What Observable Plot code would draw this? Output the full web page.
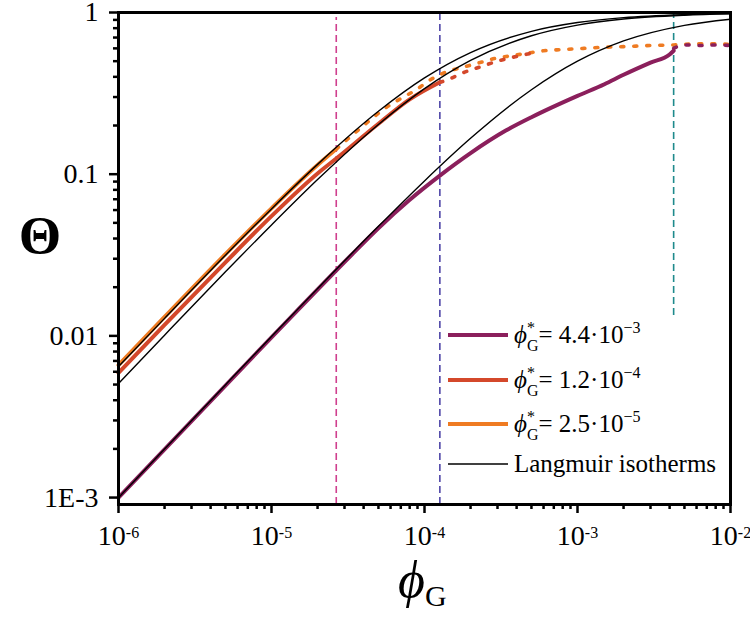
<!DOCTYPE html>
<html>
<head>
<meta charset="utf-8">
<script src="https://cdn.jsdelivr.net/npm/d3@7"></script>
<script src="https://cdn.jsdelivr.net/npm/@observablehq/plot@0.6"></script>
<style>
  html, body { margin: 0; padding: 0; background: #fff; }
  #chart { width: 750px; height: 617px; }
</style>
</head>
<body>
<div id="chart"></div>
<script>
// ---- tick labels ----
const xTicks = [1e-6, 1e-5, 1e-4, 1e-3, 1e-2];
const xTickLabels = ["10^-6", "10^-5", "10^-4", "10^-3", "10^-2"];
const yTicks = [1e-3, 1e-2, 1e-1, 1];
const yTickLabels = ["1E-3", "0.01", "0.1", "1"];

// ---- Langmuir isotherms (black) ----
const langPhi = [1e-6, 2e-6, 5e-6, 1e-5, 2e-5, 5e-5, 1e-4, 2e-4, 5e-4, 1e-3, 2e-3, 5e-3, 1e-2];
const langA = [0.000999, 0.001996, 0.004975, 0.0099, 0.0196, 0.0476, 0.0909, 0.1667, 0.333, 0.5, 0.667, 0.833, 0.909];
const langB = [0.00507, 0.0101, 0.0249, 0.0485, 0.0926, 0.203, 0.338, 0.505, 0.718, 0.836, 0.911, 0.962, 0.981];
const langC = [0.00646, 0.01283, 0.0315, 0.061, 0.115, 0.245, 0.394, 0.565, 0.765, 0.867, 0.929, 0.97, 0.985];

// ---- phi* = 4.4e-3 (purple) ----
const purplePhi = [1e-6, 1e-5, 3.28e-5, 5.01e-5, 7.94e-5, 1.26e-4, 2e-4, 3.4e-4, 5e-4, 6.7e-4, 1e-3, 1.5e-3, 2e-3, 3e-3, 4e-3, 4.25e-3];
const purpleTheta = [0.001, 0.0098, 0.0312, 0.0465, 0.069, 0.098, 0.135, 0.186, 0.225, 0.257, 0.305, 0.36, 0.412, 0.49, 0.55, 0.58];
const purpleDotPhi = [4.25e-3, 5e-3, 6.5e-3, 8e-3, 1e-2];
const purpleDotTheta = [0.60, 0.63, 0.625, 0.63, 0.625];

// ---- phi* = 1.2e-4 (red) ----
const redPhi = [1e-6, 2e-6, 5e-6, 1e-5, 2e-5, 2.65e-5, 5e-5, 8e-5, 1.26e-4];
const redTheta = [0.0059, 0.0117, 0.0285, 0.055, 0.101, 0.125, 0.205, 0.29, 0.37];
const redDotPhi = [1.26e-4, 1.43e-4, 1.8e-4, 2.3e-4, 3e-4, 4e-4, 5e-4];
const redDotTheta = [0.37, 0.385, 0.425, 0.46, 0.50, 0.535, 0.56];

// ---- phi* = 2.5e-5 (orange) ----
const orangePhi = [1e-6, 2e-6, 5e-6, 1e-5, 2e-5, 2.65e-5];
const orangeTheta = [0.0066, 0.0131, 0.032, 0.0615, 0.114, 0.143];
const orangeDotPhi = [2.65e-5, 4e-5, 5.5e-5, 7.2e-5, 8.7e-5, 1.1e-4, 1.45e-4, 1.8e-4, 2.3e-4, 2.9e-4, 3.7e-4, 4.7e-4, 6e-4, 8e-4, 1.1e-3, 1.5e-3, 2e-3, 3e-3, 4.25e-3, 6e-3, 8e-3, 1e-2];
const orangeDotTheta = [0.143, 0.20, 0.255, 0.298, 0.33, 0.385, 0.435, 0.46, 0.49, 0.52, 0.54, 0.56, 0.58, 0.59, 0.60, 0.61, 0.615, 0.625, 0.63, 0.64, 0.64, 0.635];

// ---- vertical dashed markers ----
const markerPhi = [2.65e-5, 1.26e-4, 4.25e-3];
const markerTop = [0.93, 1, 1];
const markerBottom = [9.06e-4, 9.06e-4, 0.01336];
const markerColors = ["#cf3f8e", "#4f46a8", "#1e8a8c"];

// ---- legend ----
const legendColors = ["#8b1f5c", "#d4482b", "#ef7b22", "#000000"];
const legendValues = ["4.4·10", "1.2·10", "2.5·10", null];
const legendExps = ["−3", "−4", "−5", null];
const legendText = ["", "", "", "Langmuir isotherms"];

const zip = (xs, ys) => xs.map((x, i) => ({x, y: ys[i]}));
const markers = markerPhi.map((x, i) => ({x, y1: markerBottom[i], y2: markerTop[i], c: markerColors[i]}));

const yMinor = [];
for (let e = -4; e < 0; e++) for (let m = 2; m <= 9; m++) { const v = m * Math.pow(10, e); if (v >= 9.06e-4 && v <= 1) yMinor.push(v); }
const xMinor = [];
for (let e = -6; e < -2; e++) for (let m = 2; m <= 9; m++) xMinor.push(m * Math.pow(10, e));

const thick = 4;
const dotStyle = {strokeWidth: 3.6, strokeDasharray: "3,10", strokeLinecap: "round", curve: "monotone-x"};

const svg = Plot.plot({
  width: 750,
  height: 617,
  marginLeft: 118,
  marginRight: 20,
  marginTop: 12,
  marginBottom: 113,
  x: {type: "log", domain: [1e-6, 1e-2], axis: null},
  y: {type: "log", domain: [9.06e-4, 1], axis: null},
  style: {fontFamily: "'Liberation Serif', 'Times New Roman', serif", fontSize: "28px", background: "#fff", color: "#000", overflow: "visible"},
  marks: [
    Plot.ruleX(markers, {x: "x", y1: "y1", y2: "y2", stroke: "c", strokeWidth: 1.6, strokeDasharray: "7,4"}),
    Plot.line(zip(orangeDotPhi, orangeDotTheta), {x: "x", y: "y", stroke: legendColors[2], ...dotStyle}),
    Plot.line(zip(redDotPhi, redDotTheta), {x: "x", y: "y", stroke: legendColors[1], ...dotStyle}),
    Plot.line(zip(purpleDotPhi, purpleDotTheta), {x: "x", y: "y", stroke: legendColors[0], ...dotStyle}),
    Plot.line(zip(purplePhi, purpleTheta), {x: "x", y: "y", stroke: legendColors[0], strokeWidth: thick, curve: "monotone-x"}),
    Plot.line(zip(orangePhi, orangeTheta), {x: "x", y: "y", stroke: legendColors[2], strokeWidth: thick, curve: "monotone-x"}),
    Plot.line(zip(redPhi, redTheta), {x: "x", y: "y", stroke: legendColors[1], strokeWidth: thick, curve: "monotone-x"}),
    Plot.line(zip(langPhi, langA), {x: "x", y: "y", stroke: "#000", strokeWidth: 1.4, curve: "monotone-x"}),
    Plot.line(zip(langPhi, langB), {x: "x", y: "y", stroke: "#000", strokeWidth: 1.4, curve: "monotone-x"}),
    Plot.line(zip(langPhi, langC), {x: "x", y: "y", stroke: "#000", strokeWidth: 1.4, curve: "monotone-x"}),
    Plot.axisX({ticks: xMinor, tickSize: 5, tickFormat: () => "", strokeWidth: 2.5, label: null}),
    Plot.axisX({ticks: xTicks, tickSize: 9, tickPadding: 12, tickFormat: (d) => xTickLabels[xTicks.indexOf(d)], strokeWidth: 2.5, label: null}),
    Plot.axisY({ticks: yMinor, tickSize: 5, tickFormat: () => "", strokeWidth: 2.5, label: null}),
    Plot.axisY({ticks: yTicks, tickSize: 9, tickPadding: 11, tickFormat: (d) => yTickLabels[yTicks.indexOf(d)], strokeWidth: 2.5, label: null}),
    Plot.frame({stroke: "#000", strokeWidth: 3})
  ]
});
document.getElementById("chart").appendChild(svg);

const s = d3.select(svg);
// superscripts on x tick labels
s.selectAll('[aria-label="x-axis tick label"] text').each(function () {
  const t = this.textContent;
  if (!t.includes("^")) return;
  const [b, e] = t.split("^");
  const el = d3.select(this);
  el.text("");
  el.append("tspan").text(b);
  el.append("tspan").attr("dy", "-0.45em").attr("font-size", "16px").text(e);
});

const fam = "'Liberation Serif', 'Times New Roman', serif";

// axis titles
s.append("text").attr("x", 40).attr("y", 253).attr("text-anchor", "middle")
  .attr("font-family", fam).attr("font-weight", "bold").attr("font-size", 52)
  .attr("transform", "translate(40,0) scale(1.05,1) translate(-40,0)")
  .text("Θ");
const xl = s.append("text").attr("x", 398).attr("y", 597).attr("text-anchor", "start")
  .attr("font-family", fam).attr("font-size", 52);
xl.append("tspan").attr("font-style", "italic").text("ϕ");
xl.append("tspan").attr("font-size", 30).attr("dy", 9).text("G");

// legend
const lg = s.append("g").attr("font-family", fam).attr("font-size", 25).attr("text-anchor", "start");
const lx0 = 448, lx1 = 508, ly = [335, 380, 424, 464];
legendColors.forEach((c, i) => {
  lg.append("line").attr("x1", lx0).attr("x2", lx1).attr("y1", ly[i]).attr("y2", ly[i])
    .attr("stroke", c).attr("stroke-width", i < 3 ? 4 : 1.5);
  const t = lg.append("text").attr("x", 514).attr("y", ly[i] + 8).attr("text-anchor", "start");
  if (legendValues[i] !== null) {
    t.append("tspan").attr("font-style", "italic").text("ϕ");
    t.append("tspan").attr("font-size", 16).attr("dy", -10).text("*");
    t.append("tspan").attr("font-size", 16).attr("dx", -8).attr("dy", 18).text("G");
    t.append("tspan").attr("dy", -8).text("= " + legendValues[i]);
    t.append("tspan").attr("font-size", 16).attr("dy", -10).text(legendExps[i]);
  } else {
    t.text(legendText[i]);
  }
});
</script>
</body>
</html>
